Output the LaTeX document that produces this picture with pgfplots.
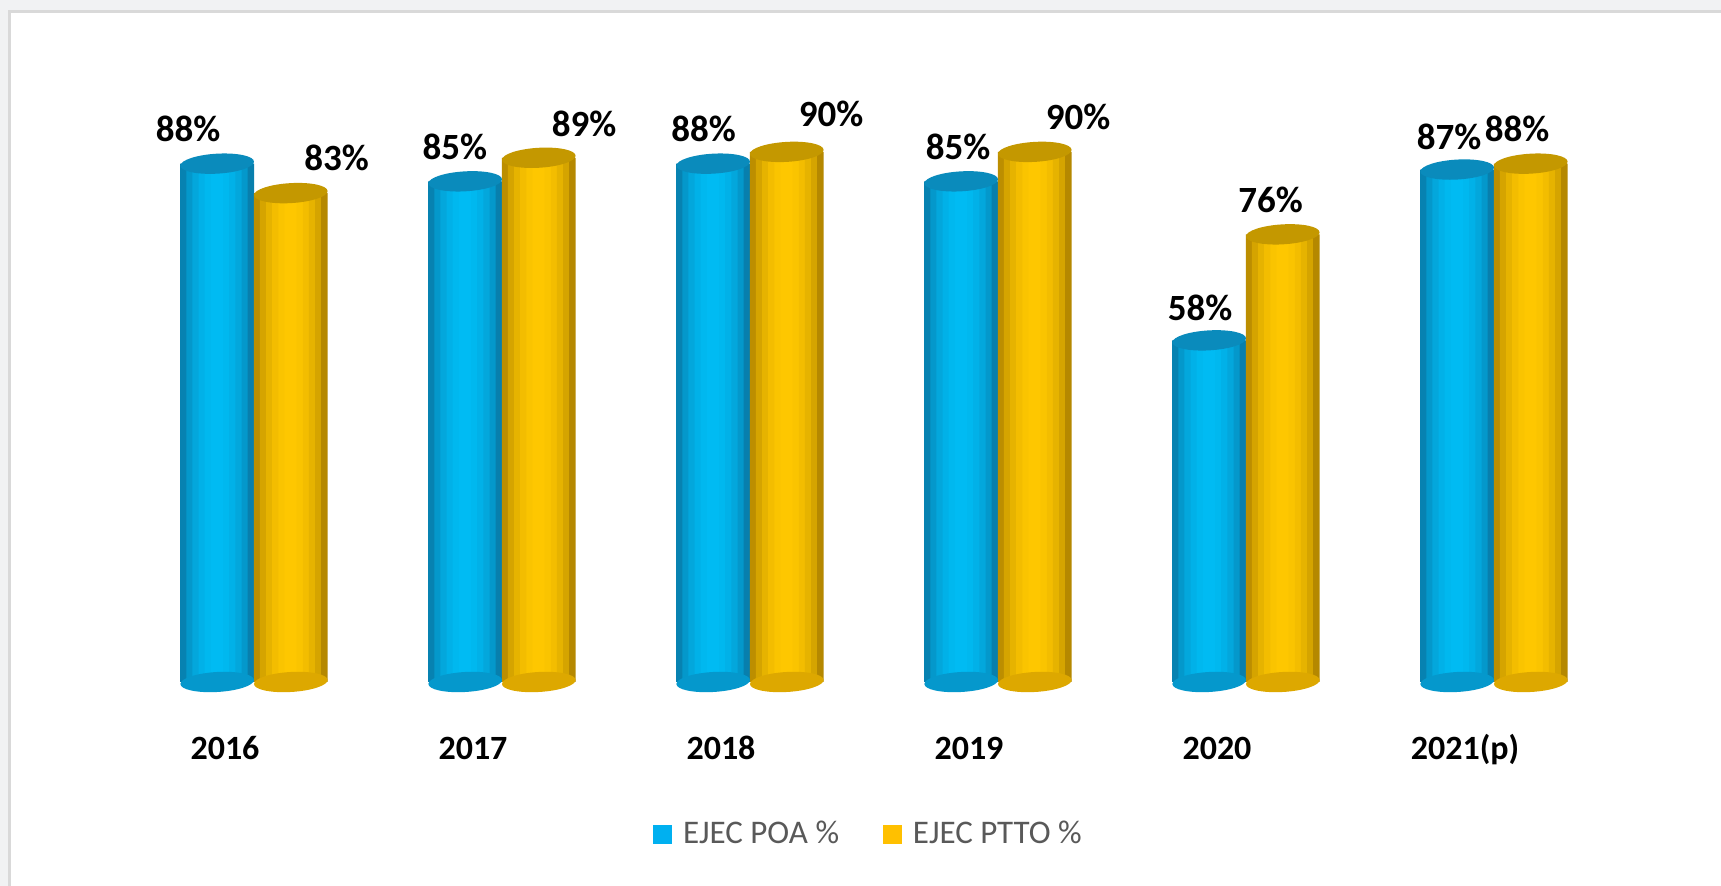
\documentclass[border=0pt]{standalone}
\usepackage{pgfplots}
\usepackage{pgfplotstable}
\pgfplotsset{compat=1.18}
\usepackage{fontspec}
\setmainfont{Carlito}
\definecolor{bluemid}{HTML}{00BCF4}
\definecolor{bluedark}{HTML}{0A6A96}
\definecolor{bluetop}{HTML}{0A8BBC}
\definecolor{bluebot}{HTML}{0598CC}
\definecolor{blueflat}{HTML}{00B0F0}
\definecolor{yelmid}{HTML}{FFC800}
\definecolor{yeldark}{HTML}{A07600}
\definecolor{yeltop}{HTML}{C49800}
\definecolor{yelbot}{HTML}{DDA800}
\definecolor{yelflat}{HTML}{FFC000}
\definecolor{legtext}{HTML}{595959}
\definecolor{outerbg}{HTML}{F1F2F3}
\definecolor{panelborder}{HTML}{D9D9D9}
\colorlet{b0}{bluemid!29!bluedark}\colorlet{b1}{bluemid!56!bluedark}\colorlet{b2}{bluemid!74!bluedark}
\colorlet{b3}{bluemid!87!bluedark}\colorlet{b4}{bluemid!95!bluedark}\colorlet{b5}{bluemid!99!bluedark}
\colorlet{b6}{bluemid!99!bluedark}\colorlet{b7}{bluemid!95!bluedark}\colorlet{b8}{bluemid!87!bluedark}
\colorlet{b9}{bluemid!74!bluedark}\colorlet{b10}{bluemid!56!bluedark}\colorlet{b11}{bluemid!25!bluedark}
\colorlet{y0}{yelmid!29!yeldark}\colorlet{y1}{yelmid!56!yeldark}\colorlet{y2}{yelmid!74!yeldark}
\colorlet{y3}{yelmid!87!yeldark}\colorlet{y4}{yelmid!95!yeldark}\colorlet{y5}{yelmid!99!yeldark}
\colorlet{y6}{yelmid!99!yeldark}\colorlet{y7}{yelmid!95!yeldark}\colorlet{y8}{yelmid!87!yeldark}
\colorlet{y9}{yelmid!74!yeldark}\colorlet{y10}{yelmid!56!yeldark}\colorlet{y11}{yelmid!22!yeldark}
\pgfdeclareplotmark{cylL}{\pgfpathellipse{\pgfpoint{-18.4pt}{0pt}}{\pgfpoint{18.4pt}{1pt}}{\pgfpoint{0pt}{5pt}}\pgfusepathqfill}
\pgfdeclareplotmark{cylR}{\pgfpathellipse{\pgfpoint{18.4pt}{0pt}}{\pgfpoint{18.4pt}{1pt}}{\pgfpoint{0pt}{5pt}}\pgfusepathqfill}
\newcommand{\stripe}[3]{\addplot[forget plot, ybar, bar width=3.3pt, bar shift=#2pt, fill=#3, draw=none] table[x=x, y=#1] {\datatable};}
\pgfplotstableread{
x poa ptto base
0 88 83 0
1 85 89 0
2 88 90 0
3 85 90 0
4 58 76 0
5 87 88 0
}\datatable
\begin{document}
\begin{tikzpicture}
\useasboundingbox (0,0) rectangle (860.5pt,443pt);
\clip (0,0) rectangle (860.5pt,443pt);
\fill[outerbg] (0,0) rectangle (860.5pt,443pt);
\filldraw[fill=white, draw=panelborder, line width=1.5pt] (4.5pt,-5pt) rectangle (880pt,437pt);
\begin{axis}[
  at={(65pt,102pt)}, anchor=south west,
  scale only axis, width=744pt, height=294.5pt,
  xmin=-0.5, xmax=5.5, ymin=0, ymax=100,
  clip=false,
  axis line style={draw=none},
  tick style={draw=none},
  ytick=\empty,
  xtick={0,1,2,3,4,5},
  xticklabels={2016,2017,2018,2019,2020,2021(p)},
  xticklabel style={anchor=base, yshift=-39pt, xshift=-14.5pt, font=\fontsize{17}{20}\selectfont\bfseries},
  legend style={at={(0.497,-0.258)}, anchor=center, draw=none, fill=none,
    font=\fontsize{16.5}{19}\selectfont\color{legtext},
    legend columns=2, /tikz/every even column/.append style={column sep=20pt}},
  legend cell align=left,
]
% bottom ellipses
\addplot[forget plot, only marks, mark=cylL, mark options={fill=bluebot, draw=none}] table[x=x, y=base] {\datatable};
\addplot[forget plot, only marks, mark=cylR, mark options={fill=yelbot, draw=none}] table[x=x, y=base] {\datatable};
% blue bodies (vertical stripes for the cylinder shading)
\stripe{poa}{-35.267}{b0}\stripe{poa}{-32.2}{b1}\stripe{poa}{-29.133}{b2}\stripe{poa}{-26.067}{b3}
\stripe{poa}{-23.0}{b4}\stripe{poa}{-19.933}{b5}\stripe{poa}{-16.867}{b6}\stripe{poa}{-13.8}{b7}
\stripe{poa}{-10.733}{b8}\stripe{poa}{-7.667}{b9}\stripe{poa}{-4.6}{b10}\stripe{poa}{-1.6}{b11}
% yellow bodies
\stripe{ptto}{1.6}{y0}\stripe{ptto}{4.6}{y1}\stripe{ptto}{7.667}{y2}\stripe{ptto}{10.733}{y3}
\stripe{ptto}{13.8}{y4}\stripe{ptto}{16.867}{y5}\stripe{ptto}{19.933}{y6}\stripe{ptto}{23.0}{y7}
\stripe{ptto}{26.067}{y8}\stripe{ptto}{29.133}{y9}\stripe{ptto}{32.2}{y10}\stripe{ptto}{35.2}{y11}
% top ellipses
\addplot[forget plot, only marks, mark=cylL, mark options={fill=bluetop, draw=none}] table[x=x, y=poa] {\datatable};
\addplot[forget plot, only marks, mark=cylR, mark options={fill=yeltop, draw=none}] table[x=x, y=ptto] {\datatable};
% legend
\addlegendimage{legend image code/.code={\fill[blueflat] (0pt,-4.5pt) rectangle (9pt,4.5pt); \path (12.5pt,0pt);}}
\addlegendentry{EJEC POA \%}
\addlegendimage{legend image code/.code={\fill[yelflat] (0pt,-4.5pt) rectangle (9pt,4.5pt); \path (12.5pt,0pt);}}
\addlegendentry{EJEC PTTO \%}
% data labels
\addplot[forget plot, draw=none, mark=none, nodes near coords, point meta=explicit symbolic,
  every node near coord/.append style={anchor=center, inner sep=0pt, font=\fontsize{18.5}{22}\selectfont\bfseries, text=black}]
  coordinates {
  (-0.266,93.97) [88\%]
  (0.333,89.05) [83\%]
  (0.810,90.83) [85\%]
  (1.331,94.74) [89\%]
  (1.813,93.97) [88\%]
  (2.327,96.43) [90\%]
  (2.839,90.83) [85\%]
  (3.323,95.93) [90\%]
  (3.815,63.58) [58\%]
  (4.099,81.92) [76\%]
  (4.819,92.61) [87\%]
  (5.093,93.97) [88\%]
  };
\end{axis}
\end{tikzpicture}
\end{document}
